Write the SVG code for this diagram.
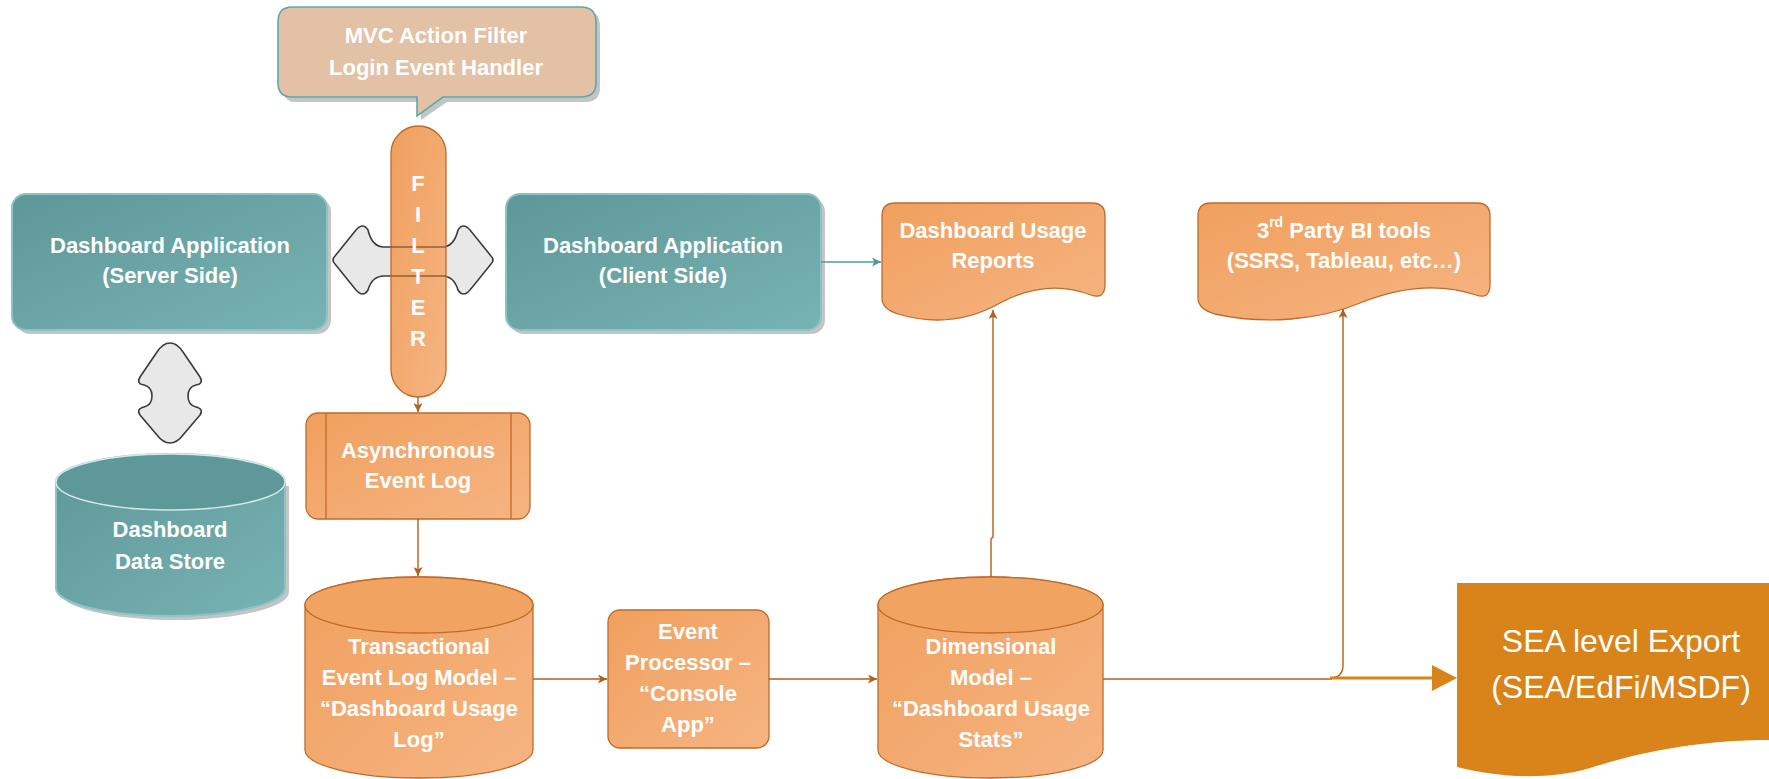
<svg xmlns="http://www.w3.org/2000/svg" width="1769" height="779" viewBox="0 0 1769 779">
<defs>
  <linearGradient id="gOr" x1="0" y1="0" x2="1" y2="1">
    <stop offset="0" stop-color="#f0a05e"/>
    <stop offset="1" stop-color="#f6b482"/>
  </linearGradient>
  <linearGradient id="gTeal" x1="0" y1="0" x2="1" y2="1">
    <stop offset="0" stop-color="#5e9798"/>
    <stop offset="1" stop-color="#78b3b4"/>
  </linearGradient>
  <marker id="mB" viewBox="0 0 10 10" refX="10" refY="5" markerWidth="9" markerHeight="9" markerUnits="userSpaceOnUse" orient="auto">
    <path d="M0,0 L10,5 L0,10 L2.5,5 Z" fill="#b0601f"/>
  </marker>
  <marker id="mT" viewBox="0 0 10 10" refX="10" refY="5" markerWidth="9" markerHeight="9" markerUnits="userSpaceOnUse" orient="auto">
    <path d="M0,0 L10,5 L0,10 L2.5,5 Z" fill="#4f9aa0"/>
  </marker>
</defs>
<style>
  text { font-family: "Liberation Sans", Arial, sans-serif; font-weight: bold; font-size: 22px; fill: #ffffff; text-anchor: middle; }
  .or { fill: url(#gOr); stroke: #c06a2a; stroke-width: 1.3; }
  .teal { fill: url(#gTeal); stroke: #8cc3c4; stroke-width: 2; }
  .shadow { fill: #c4c4c4; }
  .gray { fill: #e8e8e8; stroke: #3c3c3c; stroke-width: 1.6; }
  .conn { fill: none; stroke: #b0601f; stroke-width: 1.4; }
  .sea { font-weight: normal; font-size: 32px; }
</style>
<rect width="1769" height="779" fill="#ffffff"/>

<g id="arrow-server-client">
  <path class="gray" d="M335,256 L356,230 Q363,222 368,230 Q372,247 384,247 L442,247 Q454,247 458,230 Q463,222 470,230 L491,256 Q495,260 491,264 L470,290 Q463,298 458,290 Q454,276 442,276 L384,276 Q372,276 368,290 Q363,298 356,290 L335,264 Q331,260 335,256 Z"/>
</g>

<g id="callout">
  <path class="shadow" d="M296,11 L585,11 Q600,11 600,26 L600,88 Q600,102 585,102 L447,102 L421,120 L421,102 L296,102 Q283,102 283,88 L283,26 Q283,11 296,11 Z"/>
  <path d="M292,7 L581,7 Q596,7 596,22 L596,83 Q596,97 581,97 L443,97 L417,116 L417,97 L292,97 Q278,97 278,83 L278,22 Q278,7 292,7 Z" fill="#e2c1a4" stroke="#5aa8b2" stroke-width="1.6"/>
  <text x="436" y="43">MVC Action Filter</text>
  <text x="436" y="75">Login Event Handler</text>
</g>

<g id="filter">
  <rect class="or" x="391" y="126" width="55" height="271" rx="27.5"/>
  <line x1="391" y1="247" x2="446" y2="247" stroke="#6a4020" stroke-opacity="0.7" stroke-width="1.4"/>
  <line x1="391" y1="276" x2="446" y2="276" stroke="#6a4020" stroke-opacity="0.7" stroke-width="1.4"/>
  <text x="418" y="191">F</text>
  <text x="418" y="222">I</text>
  <text x="418" y="253">L</text>
  <text x="418" y="284">T</text>
  <text x="418" y="315">E</text>
  <text x="418" y="346">R</text>
</g>

<g id="server">
  <rect class="shadow" x="16" y="198" width="315" height="136" rx="14"/>
  <rect class="teal" x="12" y="194" width="315" height="136" rx="14"/>
  <text x="170" y="253">Dashboard Application</text>
  <text x="170" y="283">(Server Side)</text>
</g>

<g id="client">
  <rect class="shadow" x="510" y="198" width="315" height="136" rx="14"/>
  <rect class="teal" x="506" y="194" width="315" height="136" rx="14"/>
  <text x="663" y="253">Dashboard Application</text>
  <text x="663" y="283">(Client Side)</text>
</g>

<g id="arrow-server-store">
  <path class="gray" d="M170,343 Q177,343 183,352 L200,377 Q204,384 196,385 Q188,387 188,396 Q188,405 196,407 Q204,409 200,415 L183,435 Q177,443 170,443 Q163,443 157,435 L140,415 Q136,409 144,407 Q152,405 152,396 Q152,387 144,385 Q136,384 140,377 L157,352 Q163,343 170,343 Z"/>
</g>

<g id="datastore">
  <path class="shadow" d="M60,486 L60,592 A114.5,28 0 0 0 289,592 L289,486 Z"/>
  <path class="teal" stroke="#d4eaea" d="M56,482 L56,588 A114.5,28 0 0 0 285,588 L285,482 A114.5,28 0 0 0 56,482 Z"/>
  <ellipse cx="170.5" cy="482" rx="114.5" ry="28" fill="#5f9899" stroke="#d4eaea" stroke-width="1.5"/>
  <text x="170" y="537">Dashboard</text>
  <text x="170" y="569">Data Store</text>
</g>

<g id="async">
  <rect class="or" x="306" y="413" width="224" height="106" rx="12"/>
  <line x1="326" y1="413" x2="326" y2="519" stroke="#c06a2a" stroke-width="1.3"/>
  <line x1="511" y1="413" x2="511" y2="519" stroke="#c06a2a" stroke-width="1.3"/>
  <text x="418" y="458">Asynchronous</text>
  <text x="418" y="488">Event Log</text>
</g>

<g id="transactional">
  <path class="or" d="M305,605 L305,750 A114,28 0 0 0 533,750 L533,605 A114,28 0 0 0 305,605 Z"/>
  <ellipse cx="419" cy="605" rx="114" ry="28" fill="#f1a461" stroke="#c06a2a" stroke-width="1.3"/>
  <text x="419" y="654">Transactional</text>
  <text x="419" y="685">Event Log Model –</text>
  <text x="419" y="716">“Dashboard Usage</text>
  <text x="419" y="747">Log”</text>
</g>

<g id="processor">
  <rect class="or" x="608" y="610" width="161" height="138" rx="12"/>
  <text x="688" y="639">Event</text>
  <text x="688" y="670">Processor –</text>
  <text x="688" y="701">“Console</text>
  <text x="688" y="732">App”</text>
</g>

<g id="dimensional">
  <path class="or" d="M878,605 L878,750 A112.5,28 0 0 0 1103,750 L1103,605 A112.5,28 0 0 0 878,605 Z"/>
  <ellipse cx="990.5" cy="605" rx="112.5" ry="28" fill="#f1a461" stroke="#c06a2a" stroke-width="1.3"/>
  <text x="991" y="654">Dimensional</text>
  <text x="991" y="685">Model –</text>
  <text x="991" y="716">“Dashboard Usage</text>
  <text x="991" y="747">Stats”</text>
</g>

<g id="reports">
  <path class="or" d="M882,216 Q882,203 895,203 L1092,203 Q1105,203 1105,216 L1105,284 Q1105,300 1091,295 C1060,283 1030,287 1000,303 C970,320 935,325 898,314 Q882,309 882,298 Z"/>
  <text x="993" y="238">Dashboard Usage</text>
  <text x="993" y="268">Reports</text>
</g>

<g id="bitools">
  <path class="or" d="M1198,216 Q1198,203 1211,203 L1477,203 Q1490,203 1490,216 L1490,284 Q1490,300 1476,295 C1440,283 1400,287 1360,303 C1320,320 1265,325 1215,314 Q1198,309 1198,298 Z"/>
  <text x="1344" y="238">3<tspan font-size="14" dy="-11">rd</tspan><tspan dy="11"> Party BI tools</tspan></text>
  <text x="1344" y="268">(SSRS, Tableau, etc…)</text>
</g>

<g id="sea">
  <path d="M1457,583 L1769,583 L1769,740 C1700,740 1640,752 1590,768 C1550,780 1500,778 1457,767 Z" fill="#d9841a"/>
  <text class="sea" x="1621" y="652">SEA level Export</text>
  <text class="sea" x="1621" y="698">(SEA/EdFi/MSDF)</text>
</g>

<g id="connectors">
  <path class="conn" d="M418,397 L418,412" marker-end="url(#mB)"/>
  <path class="conn" d="M418,519 L418,576" marker-end="url(#mB)"/>
  <path class="conn" d="M533,679 L607,679" marker-end="url(#mB)"/>
  <path class="conn" d="M769,679 L877,679" marker-end="url(#mB)"/>
  <path class="conn" d="M991,577 L991,539 L993,537 L993,310" marker-end="url(#mB)"/>
  <path class="conn" d="M1103,679 L1332,679"/>
  <path class="conn" d="M1330,678 Q1343,678 1343,665 L1343,309" marker-end="url(#mB)"/>
  <path d="M1330,678 L1434,678" fill="none" stroke="#d9841a" stroke-width="3"/>
  <polygon points="1432,665 1457,678 1432,691" fill="#d9841a"/>
  <path d="M821,262 L881,262" fill="none" stroke="#4f9aa0" stroke-width="1.4" marker-end="url(#mT)"/>
</g>
</svg>
